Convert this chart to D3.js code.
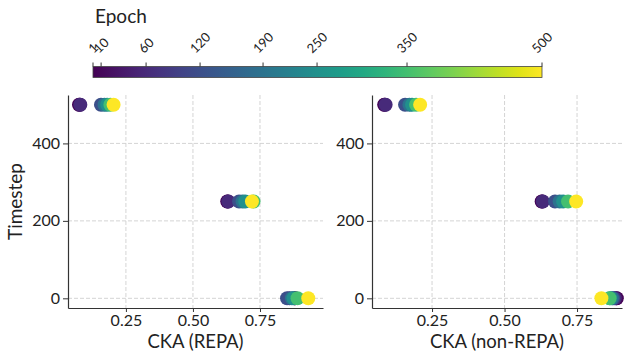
<!DOCTYPE html>
<html>
<head>
<meta charset="utf-8">
<script src="https://cdn.jsdelivr.net/npm/d3@7"></script>
<style>
  body { margin: 0; background: #fff; }
  svg { display: block; font-family: Lato, "Open Sans", sans-serif; }
</style>
</head>
<body>
<svg id="chart" width="625" height="352"></svg>
<script>
// ---- data ----
const epochs = [1, 10, 60, 120, 190, 250, 350, 500];
const colorbarTicks = [1, 10, 60, 120, 190, 250, 350, 500];
const timesteps = [0, 250, 500];
const xTicks = [0.25, 0.50, 0.75];
const yTicks = [0, 200, 400];

// CKA per epoch (same order as epochs), one array per timestep
const repa_t0   = [0.880, 0.880, 0.860, 0.851, 0.869, 0.875, 0.890, 0.930];
const repa_t250 = [0.628, 0.630, 0.632, 0.672, 0.685, 0.695, 0.726, 0.720];
const repa_t500 = [0.075, 0.078, 0.080, 0.157, 0.170, 0.180, 0.192, 0.204];

const nonrepa_t0   = [0.887, 0.885, 0.880, 0.874, 0.870, 0.864, 0.862, 0.834];
const nonrepa_t250 = [0.628, 0.630, 0.632, 0.674, 0.690, 0.702, 0.719, 0.747];
const nonrepa_t500 = [0.085, 0.087, 0.090, 0.157, 0.172, 0.181, 0.195, 0.209];

const panels = [
  { label: "CKA (REPA)", series: [repa_t0, repa_t250, repa_t500],
    xDomain: [0.034, 0.985], xRange: [68, 323] },
  { label: "CKA (non-REPA)", series: [nonrepa_t0, nonrepa_t250, nonrepa_t500],
    xDomain: [0.043, 0.905], xRange: [372, 622] }
];

// ---- drawing ----
const svg = d3.select("#chart");
const color = d3.scaleSequential(d3.interpolateViridis).domain([1, 500]);
const y = d3.scaleLinear().domain([-25, 525]).range([308, 95]);
const axisColor = "#333";

panels.forEach(p => {
  const x = d3.scaleLinear().domain(p.xDomain).range(p.xRange);
  const g = svg.append("g");

  // grid
  g.selectAll(".gx").data(xTicks).join("line")
    .attr("x1", d => x(d)).attr("x2", d => x(d))
    .attr("y1", y.range()[1]).attr("y2", y.range()[0])
    .attr("stroke", "#cfcfcf").attr("stroke-width", 0.9).attr("stroke-dasharray", "4,2");
  g.selectAll(".gy").data(yTicks).join("line")
    .attr("x1", p.xRange[0]).attr("x2", p.xRange[1])
    .attr("y1", d => y(d)).attr("y2", d => y(d))
    .attr("stroke", "#cfcfcf").attr("stroke-width", 0.9).attr("stroke-dasharray", "4,2");

  // points
  const pts = [];
  epochs.forEach((e, i) => {
    timesteps.forEach((t, j) => pts.push({ e, t, v: p.series[j][i] }));
  });
  g.selectAll("circle").data(pts).join("circle")
    .attr("cx", d => x(d.v)).attr("cy", d => y(d.t))
    .attr("r", 7).attr("fill", d => color(d.e));

  // axes
  const xa = g.append("g").attr("transform", `translate(0,${y.range()[0]})`)
    .call(d3.axisBottom(x).tickValues(xTicks).tickFormat(d3.format(".2f")).tickSize(4).tickPadding(3).tickSizeOuter(0));
  const ya = g.append("g").attr("transform", `translate(${p.xRange[0]},0)`)
    .call(d3.axisLeft(y).tickValues(yTicks).tickSize(5).tickPadding(3).tickSizeOuter(0));
  [xa, ya].forEach(a => {
    a.select(".domain").attr("stroke", axisColor).attr("stroke-width", 1.2);
    a.selectAll(".tick line").attr("stroke", axisColor).attr("stroke-width", 1);
    a.selectAll(".tick text").attr("fill", "#222").style("font-size", "16px").style("font-family", "Lato");
  });

  g.append("text")
    .attr("x", (p.xRange[0] + p.xRange[1]) / 2).attr("y", 348)
    .attr("text-anchor", "middle").attr("fill", "#222")
    .style("font-size", "18.5px").text(p.label);
});

// y label
svg.append("text")
  .attr("transform", `translate(22,${(y.range()[0] + y.range()[1]) / 2}) rotate(-90)`)
  .attr("text-anchor", "middle").attr("fill", "#222")
  .style("font-size", "19px").text("Timestep");

// colorbar
const cb = d3.scaleLinear().domain([1, 500]).range([93, 542]);
const defs = svg.append("defs");
const grad = defs.append("linearGradient").attr("id", "vir").attr("x1", "0%").attr("x2", "100%");
d3.range(0, 1.0001, 0.05).forEach(t => {
  grad.append("stop").attr("offset", (t * 100) + "%").attr("stop-color", d3.interpolateViridis(t));
});
svg.append("rect").attr("x", cb.range()[0]).attr("y", 66.5)
  .attr("width", cb.range()[1] - cb.range()[0]).attr("height", 11)
  .attr("fill", "url(#vir)").attr("stroke", "#444").attr("stroke-width", 0.8);

svg.selectAll(".cbt").data(colorbarTicks).join("line")
  .attr("x1", d => cb(d)).attr("x2", d => cb(d))
  .attr("y1", 66.5).attr("y2", 62.5).attr("stroke", axisColor).attr("stroke-width", 1);

const lbls = svg.selectAll(".cbl").data(colorbarTicks).join("text")
  .attr("text-anchor", "middle").attr("dy", "0.36em").attr("fill", "#222")
  .style("font-size", "13px").text(d => d);
lbls.each(function(d) {
  const w = this.getComputedTextLength();
  const h = 9.4;
  const cy = 54 - (w + h) / (2 * Math.SQRT2);
  d3.select(this).attr("transform", `translate(${cb(d)},${cy}) rotate(-45)`);
});

svg.append("text").attr("x", 95).attr("y", 22.5).attr("fill", "#222")
  .style("font-size", "19px").text("Epoch");
</script>
</body>
</html>
